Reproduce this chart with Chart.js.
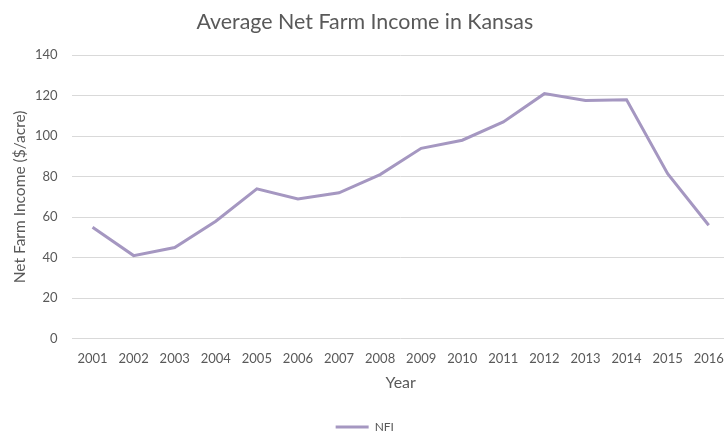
<!DOCTYPE html>
<html>
<head>
<meta charset="utf-8">
<script src="https://cdn.jsdelivr.net/npm/chart.js@4/dist/chart.umd.min.js"></script>
<style>
  html, body { margin: 0; padding: 0; background: #fff; overflow: hidden; }
  #wrap { width: 736px; height: 435px; }
</style>
</head>
<body>
<div id="wrap"><canvas id="c" width="736" height="435"></canvas></div>
<script>
// Average net farm income per acre, Kansas farms
const years = ['2001','2002','2003','2004','2005','2006','2007','2008',
               '2009','2010','2011','2012','2013','2014','2015','2016'];
const nfi = [55, 41, 45, 58, 74, 69, 72, 81, 94, 98, 107, 121, 117.6, 118, 81.5, 56];
const yTicks = [0, 20, 40, 60, 80, 100, 120, 140];

const textGray = '#595959';
const fontFamily = 'Lato, "Open Sans", sans-serif';

new Chart(document.getElementById('c'), {
  type: 'line',
  data: {
    labels: years,
    datasets: [{
      label: 'NFI',
      data: nfi,
      borderColor: '#a597c1',
      backgroundColor: '#a597c1',
      borderWidth: 3,
      pointRadius: 0,
      pointHoverRadius: 0,
      tension: 0,
      fill: false
    }]
  },
  options: {
    responsive: false,
    animation: false,
    devicePixelRatio: 1,
    layout: { padding: { left: 0, right: 6.4, top: 0, bottom: -8 } },
    plugins: {
      title: {
        display: true,
        text: 'Average Net Farm Income in Kansas',
        color: textGray,
        font: { family: fontFamily, size: 21.4, weight: 'normal' },
        padding: { top: 9.2, bottom: 20.3 }
      },
      legend: {
        display: true,
        position: 'bottom',
        labels: {
          color: textGray,
          font: { family: fontFamily, size: 12 },
          usePointStyle: true,
          pointStyle: 'line',
          pointStyleWidth: 33,
          boxWidth: 33,
          padding: 2
        }
      },
      tooltip: { enabled: false }
    },
    scales: {
      x: {
        offset: true,
        grid: { display: false, drawTicks: false },
        border: { display: false },
        afterFit: (axis) => { axis.height = 80.4; },
        ticks: {
          color: textGray,
          font: { family: fontFamily, size: 13 },
          padding: 12,
          maxRotation: 0,
          autoSkip: false
        },
        title: {
          display: true,
          text: 'Year',
          color: textGray,
          font: { family: fontFamily, size: 16 },
          padding: { top: 0, bottom: 26.4 }
        }
      },
      y: {
        min: 0,
        max: 140,
        afterBuildTicks: (axis) => { axis.ticks = yTicks.map(v => ({ value: v })); },
        afterFit: (axis) => { axis.width = 72; },
        grid: { color: '#d9d9d9', lineWidth: 1, drawTicks: false },
        border: { display: false },
        ticks: {
          color: textGray,
          font: { family: fontFamily, size: 13 },
          padding: 14.5
        },
        title: {
          display: true,
          text: 'Net Farm Income ($/acre)',
          color: textGray,
          font: { family: fontFamily, size: 15.5 },
          padding: { top: 10.7, bottom: 0 }
        }
      }
    }
  }
});
</script>
</body>
</html>
